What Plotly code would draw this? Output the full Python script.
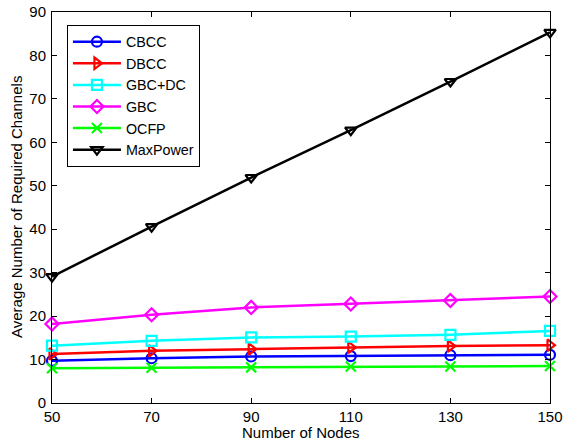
import plotly.graph_objects as go

nodes = [50, 70, 90, 110, 130, 150]
cbcc = [9.7, 10.3, 10.7, 10.8, 11.0, 11.1]
dbcc = [11.3, 12.0, 12.4, 12.8, 13.1, 13.3]
gbc_dc = [13.2, 14.3, 15.1, 15.3, 15.7, 16.6]
gbc = [18.2, 20.3, 22.0, 22.8, 23.6, 24.5]
ocfp = [8.0, 8.1, 8.2, 8.4, 8.4, 8.5]
maxpower = [29.1, 40.6, 51.9, 62.8, 74.0, 85.3]

series = [
    ("CBCC", cbcc, "#0000ff", "circle-open"),
    ("DBCC", dbcc, "#ff0000", "triangle-right-open"),
    ("GBC+DC", gbc_dc, "#00ffff", "square-open"),
    ("GBC", gbc, "#ff00ff", "diamond-open"),
    ("OCFP", ocfp, "#00ff00", "x-thin-open"),
    ("MaxPower", maxpower, "#000000", "triangle-down-open"),
]

FONT = "Liberation Sans, Arial, sans-serif"

fig = go.Figure()
for name, ys, color, sym in series:
    fig.add_trace(go.Scatter(
        x=nodes, y=ys, name=name, mode="lines+markers",
        line=dict(color=color, width=2.5),
        marker=dict(symbol=sym, size=10, color=color, line=dict(color=color, width=2.2)),
        cliponaxis=False,
    ))

axis_common = dict(
    showgrid=False, zeroline=False, showline=True, linecolor="black", linewidth=1,
    mirror="ticks", ticks="inside", ticklen=5, tickcolor="black", automargin=False,
    ticklabeloverflow="allow",
    tickfont=dict(family=FONT, size=15, color="black"),
)

fig.update_layout(
    width=564, height=440,
    margin=dict(l=52, r=14, t=12, b=37),
    paper_bgcolor="white", plot_bgcolor="white",
    font=dict(family=FONT, color="black"),
    xaxis=dict(range=[50, 150], tickvals=nodes, **axis_common),
    yaxis=dict(range=[0, 90], dtick=10, ticklabelstandoff=2, **axis_common),
    legend=dict(x=0.03, y=0.967, xanchor="left", yanchor="top",
                bgcolor="white", bordercolor="black", borderwidth=1,
                font=dict(size=14.3), tracegroupgap=0, itemwidth=48),
    showlegend=True,
    annotations=[
        dict(text="Number of Nodes", xref="paper", yref="paper", x=0.5, y=0,
             xanchor="center", yanchor="middle", yshift=-29, showarrow=False,
             font=dict(family=FONT, size=15, color="black")),
        dict(text="Average Number of Required Channels", xref="paper", yref="paper",
             x=0, y=0.5, xanchor="center", yanchor="middle", xshift=-35.5,
             textangle=-90, showarrow=False,
             font=dict(family=FONT, size=15, color="black")),
    ],
)

fig.write_html(
    "out.html",
    config={"displayModeBar": False},
    post_script="document.body.style.margin='0';document.body.style.overflow='hidden';",
)
